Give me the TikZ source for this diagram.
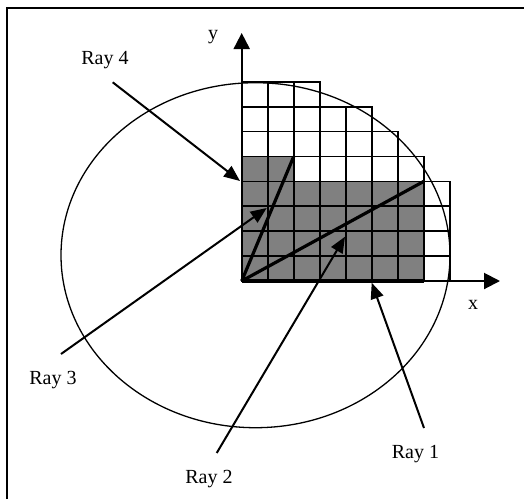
\documentclass[tikz,border=0pt]{standalone}
\usepackage{fontspec}
\setmainfont{Liberation Serif}
\usetikzlibrary{arrows.meta}

\begin{document}
\begin{tikzpicture}[
  x=0.5pt, y=-0.5pt,
  >={Triangle[length=8pt,width=6.5pt]},
  every node/.style={font=\fontsize{10pt}{12pt}\selectfont,inner sep=0pt},
  cell/.style={draw,line width=0.85pt},
  shade/.style={fill=black!50},
  ray/.style={->,line width=1pt},
  axis/.style={-{Triangle[length=8pt,width=8pt]},line width=1pt},
  chord/.style={line width=1.6pt}
]
  \useasboundingbox (0,0) rectangle (524,499);
  % frame, only top and left edges show
  \draw[line width=1.3pt] (7,499) -- (7,8) -- (524,8);

  \draw[line width=0.65pt] (255.5,255.2) ellipse [x radius=194.5, y radius=172.5];

  \begin{scope}[shift={(241.7,281)}, x=13pt, y=12.45pt]
    \coordinate (O) at (0,0);
    \fill[shade] (0,0) rectangle (7,4);
    \fill[shade] (0,4) rectangle (2,5);
    \foreach \j/\w in {0/8,1/8,2/8,3/8,4/7,5/6,6/5,7/3}
      \foreach \i in {1,...,\w}
        \draw[cell] (\i-1,\j) rectangle (\i,\j+1);
    \coordinate (A) at (2,5);
    \coordinate (B) at (7,4);
    \coordinate (C) at (7,0);
    \draw[chord] (O) -- (A);
    \draw[chord] (O) -- (B);
    \draw[chord] (O) -- (C);
  \end{scope}

  \coordinate (xend) at (500,281);
  \coordinate (yend) at (241.7,33);
  \draw[axis] (O) -- (xend);
  \draw[axis] (O) -- (yend);
  \node[anchor=base] (xlab) at (473,309) {x};
  \node[anchor=base] (ylab) at (213,39) {y};

  \coordinate (r1a) at (424,428);  \coordinate (r1b) at (371.7,282.7);
  \coordinate (r2a) at (216.7,453); \coordinate (r2b) at (345,236.7);
  \coordinate (r3a) at (61,354);   \coordinate (r3b) at (266.7,208);
  \coordinate (r4a) at (112.7,82.3); \coordinate (r4b) at (240,181);
  \draw[ray] (r1a) -- (r1b);
  \draw[ray] (r2a) -- (r2b);
  \draw[ray] (r3a) -- (r3b);
  \draw[ray] (r4a) -- (r4b);

  \node[anchor=base] (ray1) at (415.5,458) {Ray 1};
  \node[anchor=base] (ray2) at (209,483) {Ray 2};
  \node[anchor=base] (ray3) at (53,384) {Ray 3};
  \node[anchor=base] (ray4) at (105,64) {Ray 4};
\end{tikzpicture}
\end{document}
